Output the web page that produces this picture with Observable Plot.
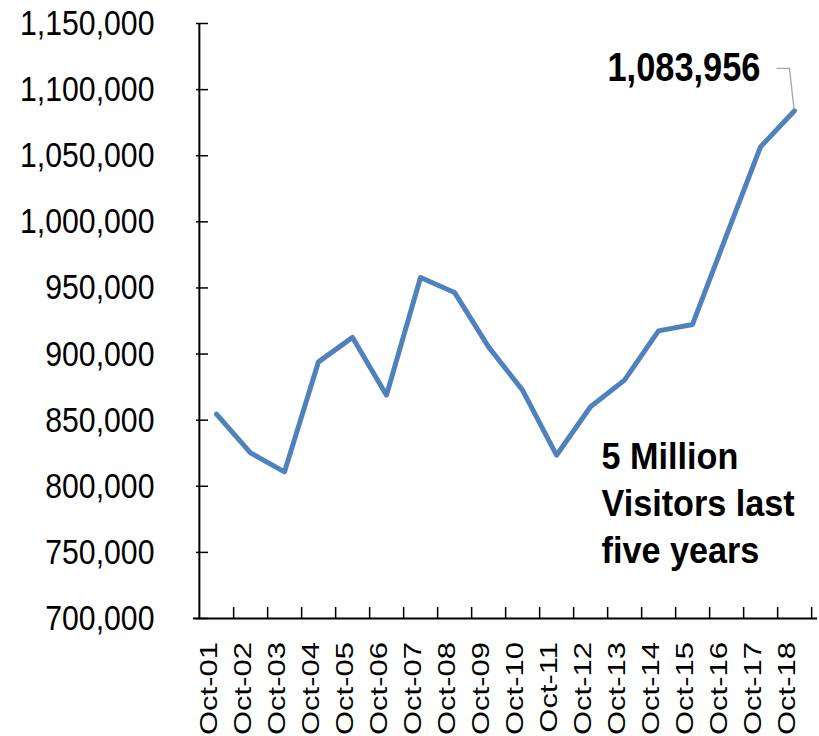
<!DOCTYPE html>
<html><head><meta charset="utf-8">
<script src="https://cdn.jsdelivr.net/npm/d3@7"></script>
<script src="https://cdn.jsdelivr.net/npm/@observablehq/plot@0.6"></script>
<style>body{margin:0;background:#fff} svg{display:block}</style>
</head><body><div id="chart"></div>
<script>
const categories = ["Oct-01","Oct-02","Oct-03","Oct-04","Oct-05","Oct-06","Oct-07","Oct-08","Oct-09","Oct-10","Oct-11","Oct-12","Oct-13","Oct-14","Oct-15","Oct-16","Oct-17","Oct-18"];
const visitors = [854500, 825300, 810900, 894100, 912600, 868900, 957900, 946600, 905400, 872700, 823500, 860100, 880300, 917500, 922400, 989700, 1056700, 1083956];
const yTicks = [700000, 750000, 800000, 850000, 900000, 950000, 1000000, 1050000, 1100000, 1150000];
const highlightLabel = "1,083,956";
const noteText = "5 Million\nVisitors last\nfive years";
const noteAnchor = [{category: "Oct-12", value: 787400}];

const data = categories.map((c, i) => ({cat: c, value: visitors[i]}));
const W = 819, H = 736, mL = 196, mR = 6, mT = 23, mB = 118;
const plotW = W - mL - mR, plotH = H - mT - mB;
const step = plotW / categories.length;
const fmt = d3.format(",");
const font = "'Liberation Sans', Arial, Helvetica, sans-serif";
const last = data[data.length - 1];

const plot = Plot.plot({
  width: W, height: H,
  marginLeft: mL, marginRight: mR, marginTop: mT, marginBottom: mB,
  style: {fontFamily: font, background: "#fff", color: "#000", overflow: "visible"},
  x: {type: "point", domain: categories, padding: 0.5, axis: null},
  y: {domain: [700000, 1150000], axis: null},
  marks: [
    Plot.ruleY(yTicks, {stroke: "#000", strokeWidth: 1.5, insetRight: plotW - 12}),
    Plot.ruleX(categories, {dx: step / 2, stroke: "#000", strokeWidth: 1.5, insetTop: plotH - 11}),
    Plot.ruleX([categories[0]], {dx: -step / 2, stroke: "#000", strokeWidth: 2}),
    Plot.ruleY([yTicks[0]], {stroke: "#000", strokeWidth: 2, insetLeft: -3, insetRight: -4}),
    Plot.text(yTicks, {y: d => d, text: d => fmt(d), frameAnchor: "left", textAnchor: "end", dx: -42, fontSize: 36, fill: "#000"}),
    Plot.text(categories, {x: d => d, text: d => d, frameAnchor: "bottom", rotate: -90, textAnchor: "end", dy: 23.5, fontSize: 31, fill: "#000"}),
    Plot.line(data, {x: "cat", y: "value", stroke: "#4f81bd", strokeWidth: 5, strokeLinejoin: "round", strokeLinecap: "round"}),
    Plot.text([last], {x: "cat", y: "value", text: () => highlightLabel, textAnchor: "end", dx: -34, dy: -43, fontSize: 40, fontWeight: "bold", fill: "#000"}),
    Plot.text(noteAnchor, {x: "category", y: "value", text: () => noteText, textAnchor: "start", dx: 11, dy: -2, lineHeight: 1.3, fontSize: 36, fontWeight: "bold", fill: "#000"})
  ]
});

const textGroups = plot.querySelectorAll('g[aria-label="text"]');
function squeeze(group, sx, sy) {
  if (!group) return;
  group.querySelectorAll("text").forEach(t => {
    const tr = t.getAttribute("transform");
    if (tr) {
      t.setAttribute("transform", `${tr} scale(${sx},${sy})`);
    } else {
      const xAttr = t.getAttribute("x");
      const yAttr = t.getAttribute("y");
      const x = xAttr && !/em$/.test(xAttr) ? +xAttr : 0;
      const yNum = yAttr && !/em$/.test(yAttr);
      const y = yNum ? +yAttr : 0;
      t.setAttribute("transform", `translate(${x},${y}) scale(${sx},${sy})`);
      if (xAttr) t.setAttribute("x", 0);
      if (yNum) t.setAttribute("y", 0);
    }
  });
}
squeeze(textGroups[0], 0.84, 1);
squeeze(textGroups[1], 1, 0.76);
squeeze(textGroups[2], 0.86, 1);
squeeze(textGroups[3], 0.95, 1);

// leader line from the highlighted label to the last point, positioned through Plot's scales
const px = plot.scale("x").apply(last.cat);
const py = plot.scale("y").apply(last.value);
d3.select(plot).append("path")
  .attr("d", `M${px - 17.5},${py - 42}H${px - 4.5}L${px},${py - 1}`)
  .attr("fill", "none").attr("stroke", "#a6a6a6").attr("stroke-width", 1.3);

document.getElementById("chart").appendChild(plot);
</script>
</body></html>
